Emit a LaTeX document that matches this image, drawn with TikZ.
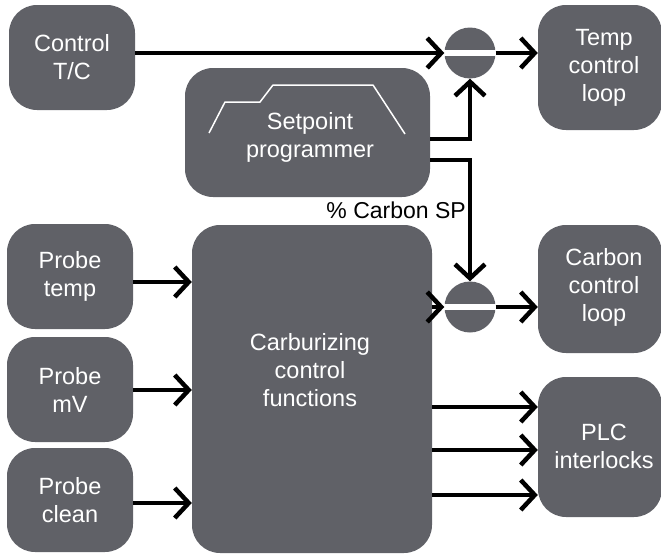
\documentclass[tikz,border=0pt]{standalone}
\usepackage{fontspec}
\setmainfont{Liberation Sans}
\usetikzlibrary{arrows.meta,calc}
\definecolor{boxgray}{RGB}{96,97,103}
\begin{document}
\begin{tikzpicture}[x=1pt,y=-1pt,
  box/.style={fill=boxgray, rounded corners=28pt, text=white, align=center, inner sep=0pt,
    font=\fontsize{23.5}{28}\selectfont},
  txt/.style={text=white, align=center, inner sep=0pt, font=\fontsize{23.5}{28}\selectfont},
  sumc/.style={circle, fill=boxgray, minimum size=51pt, inner sep=0pt},
  arr/.style={line width=4.5pt, -{Straight Barb[length=14pt,width=30pt]}},
  conn/.style={line width=4.5pt}]
\useasboundingbox (0,0) rectangle (661,554);
% boxes
\node[box, minimum width=126pt, minimum height=105pt] (ctc) at (72,57.5) {Control\\T/C};
\node[box, minimum width=245pt, minimum height=129pt] (sp) at (307.5,132.5) {};
\node[txt] (sptxt) at (310,137) {Setpoint\\programmer};
\node[box, minimum width=126pt, minimum height=105pt] (ptemp) at (70,276.5) {Probe\\temp};
\node[box, minimum width=126pt, minimum height=105pt] (pmv) at (70,389.5) {Probe\\mV};
\node[box, minimum width=126pt, minimum height=104pt] (pclean) at (70,500) {Probe\\clean};
\node[box, minimum width=240pt, minimum height=328pt] (carb) at (312,389) {};
\node[txt] (carbtxt) at (310,370) {Carburizing\\control\\functions};
\node[box, minimum width=124pt, minimum height=125pt] (tl) at (600,67.5) {};
\node[txt] (tltxt) at (604,68) {Temp\\control\\loop};
\node[box, minimum width=124pt, minimum height=128pt] (cl) at (600,289) {};
\node[txt] (cltxt) at (604,287) {Carbon\\control\\loop};
\node[box, minimum width=124pt, minimum height=140pt] (plc) at (600,447) {};
\node[txt] (plctxt) at (604,446) {PLC\\interlocks};
% ramp inside setpoint programmer
\draw[white, line width=1.5pt, line join=round] (209,133) -- (225,102) -- (260,102) -- (273,85) -- (373,85) -- (405,134);
% summing junctions
\node[sumc] (c1) at (470,53) {};
\fill[white] ($(c1.west)+(0,-2.8)$) rectangle ($(c1.east)+(0,2.8)$);
\node[sumc] (c2) at (470,307) {};
\fill[white] ($(c2.west)+(0,-2.8)$) rectangle ($(c2.east)+(0,2.8)$);
% connectors
\draw[arr] (ctc.east |- c1) -- (c1.west);
\draw[arr] (c1.east) -- (c1.east -| tl.west);
\draw[arr] ($(sp.east)+(0,6.5)$) -| (c1.south);
\draw[arr] ($(sp.east)+(0,27.5)$) -| (c2.north);
\node[anchor=base east, inner sep=0pt, font=\fontsize{23}{27}\selectfont] (lbl) at (466,218) {\% Carbon SP};
\draw[arr] (carb.east |- c2) -- (c2.west);
\draw[arr] (c2.east) -- (c2.east -| cl.west);
\foreach \yy in {407,450,495} {
  \draw[arr] (carb.east |- 0,\yy) -- (plc.west |- 0,\yy);
}
\draw[arr] (ptemp.east |- 0,282) -- (carb.west |- 0,282);
\draw[arr] (pmv.east |- 0,390) -- (carb.west |- 0,390);
\draw[arr] (pclean.east |- 0,503) -- (carb.west |- 0,503);
\end{tikzpicture}
\end{document}
